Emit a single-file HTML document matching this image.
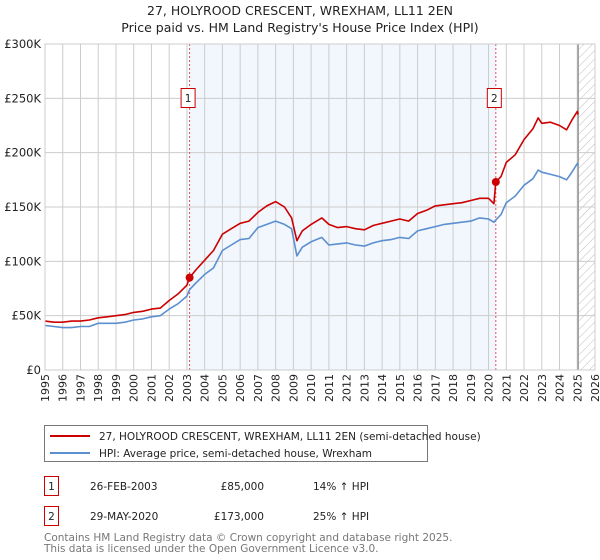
<!DOCTYPE html>
<html><head><meta charset="utf-8"><style>
body{margin:0;background:#fff;font-family:"DejaVu Sans","Liberation Sans",sans-serif;}
#wrap{position:relative;width:600px;height:560px;overflow:hidden}
svg text{font-family:"DejaVu Sans","Liberation Sans",sans-serif}
</style></head><body><div id="wrap">
<svg id="chart" width="600" height="560">
<text x="300" y="15" text-anchor="middle" font-size="12.5" fill="#222">27, HOLYROOD CRESCENT, WREXHAM, LL11 2EN</text>
<text x="300" y="32" text-anchor="middle" font-size="12.5" fill="#222">Price paid vs. HM Land Registry's House Price Index (HPI)</text>
<defs><pattern id="hatch" width="6" height="6" patternUnits="userSpaceOnUse" patternTransform="rotate(45)"><line x1="0" y1="0" x2="0" y2="6" stroke="#bbb" stroke-width="1"/></pattern></defs>
<g id="plot"></g>
<g>
<rect x="44.5" y="425.5" width="383" height="36" fill="#fff" stroke="#777"/>
<line x1="50" y1="436" x2="90" y2="436" stroke="#cc0000" stroke-width="2"/>
<text x="99" y="440" font-size="10.5" fill="#222">27, HOLYROOD CRESCENT, WREXHAM, LL11 2EN (semi-detached house)</text>
<line x1="50" y1="453" x2="90" y2="453" stroke="#5b8fd0" stroke-width="2"/>
<text x="99" y="457" font-size="10.5" fill="#222">HPI: Average price, semi-detached house, Wrexham</text>
</g>
<g font-size="10.5" fill="#222">
<rect x="44.5" y="476.5" width="14" height="19" fill="#fff" stroke="#cc0000"/>
<text x="51.5" y="490" text-anchor="middle">1</text>
<text x="90" y="490">26-FEB-2003</text>
<text x="264" y="490" text-anchor="end">£85,000</text>
<text x="313" y="490">14% ↑ HPI</text>
<rect x="44.5" y="506.5" width="14" height="19" fill="#fff" stroke="#cc0000"/>
<text x="51.5" y="520" text-anchor="middle">2</text>
<text x="90" y="520">29-MAY-2020</text>
<text x="264" y="520" text-anchor="end">£173,000</text>
<text x="313" y="520">25% ↑ HPI</text>
</g>
<text x="44" y="541" font-size="10.5" fill="#777">Contains HM Land Registry data © Crown copyright and database right 2025.</text>
<text x="44" y="552" font-size="10.5" fill="#777">This data is licensed under the Open Government Licence v3.0.</text>
</svg></div>
<script>
const dates=[1995,1995.5,1996,1996.5,1997,1997.5,1998,1998.5,1999,1999.5,2000,2000.5,2001,2001.5,2002,2002.5,2003,2003.15,2003.5,2004,2004.5,2005,2005.5,2006,2006.5,2007,2007.5,2008,2008.5,2008.9,2009.2,2009.5,2010,2010.6,2011,2011.5,2012,2012.5,2013,2013.5,2014,2014.5,2015,2015.5,2016,2016.5,2017,2017.5,2018,2018.5,2019,2019.5,2020,2020.3,2020.41,2020.7,2021,2021.5,2022,2022.5,2022.8,2023,2023.5,2024,2024.4,2024.7,2025,2025.05];
const propertyValues=[45,44,44,45,45,46,48,49,50,51,53,54,56,57,64,70,78,85,92,101,110,125,130,135,137,145,151,155,150,140,119,128,134,140,134,131,132,130,129,133,135,137,139,137,144,147,151,152,153,154,156,158,158,153,173,178,191,198,212,222,232,227,228,225,221,230,238,235];
const hpiValues=[41,40,39,39,40,40,43,43,43,44,46,47,49,50,56,61,68,74,80,88,94,110,115,120,121,131,134,137,134,130,105,113,118,122,115,116,117,115,114,117,119,120,122,121,128,130,132,134,135,136,137,140,139,136,138,143,154,160,170,176,184,182,180,178,175,182,190,188];
const sales=[{t:2003.15,v:85,label:"1"},{t:2020.41,v:173,label:"2"}];
const yTicks=[0,50,100,150,200,250,300];
const xTicks=[];for(let y=1995;y<=2026;y++)xTicks.push(y);
const X0=45,X1=595,Y0=370,Y1=44,END=2025.05;
const xs=t=>X0+(t-1995)/(2026-1995)*(X1-X0);
const ys=v=>Y0-v/300*(Y0-Y1);
const NS="http://www.w3.org/2000/svg",g=document.getElementById('plot');
function mk(tag,at,par){const e=document.createElementNS(NS,tag);for(const k in at)e.setAttribute(k,at[k]);(par||g).appendChild(e);return e;}
let r=mk('rect',{x:xs(2003.15),y:Y1,width:xs(2020.41)-xs(2003.15),height:Y0-Y1,fill:'#eef3fc',opacity:0.75});


r=mk('rect',{x:xs(END),y:Y1,width:X1-xs(END),height:Y0-Y1,fill:'url(#hatch)'});


xTicks.forEach(y=>{const l=mk('line',{x1:xs(y),x2:xs(y),y1:Y1,y2:Y0,stroke:'#ccc','stroke-width':1});


const t=mk('text',{x:0,y:0,'font-size':11,fill:'#222',transform:`translate(${xs(y)+4},${Y0+4}) rotate(-90)`,'text-anchor':'end'});


t.textContent=y;});
yTicks.forEach(v=>{const l=mk('line',{x1:X0,x2:X1,y1:ys(v),y2:ys(v),stroke:'#ccc','stroke-width':1});


const t=mk('text',{x:X0-4,y:ys(v)+4,'font-size':11.5,fill:'#222','text-anchor':'end'});


t.textContent=v===0?'£0':'£'+v+'K';});
let vl=mk('line',{x1:xs(END),x2:xs(END),y1:Y1,y2:Y0,stroke:'#999','stroke-width':1.5});


sales.forEach(s=>{const l=mk('line',{x1:xs(s.t),x2:xs(s.t),y1:Y1,y2:Y0,stroke:'#e05050','stroke-width':1,'stroke-dasharray':'2,2'});

});
function line(vals,color,name){const d=vals.map((v,i)=>(i?'L':'M')+xs(dates[i]).toFixed(1)+','+ys(v).toFixed(1)).join('');
const p=mk('path',{d:d,fill:'none',stroke:color,'stroke-width':1.6,'stroke-linejoin':'round'});

}
line(hpiValues,'#5b8fd0','hpi-line');
line(propertyValues,'#cc0000','property-price-line');
sales.forEach(s=>{const c=mk('circle',{cx:xs(s.t),cy:ys(s.v),r:4,fill:'#cc0000'});


const b=mk('rect',{x:xs(s.t)-8.5,y:88.5,width:14,height:19,fill:'#fff',stroke:'#cc0000'});


const t=mk('text',{x:xs(s.t)-1.5,y:102,'font-size':10.5,fill:'#222','text-anchor':'middle'});


t.textContent=s.label;});
const ax=mk('rect',{x:X0,y:Y1,width:X1-X0,height:Y0-Y1,fill:'none',stroke:'#ccc'});


</script></body></html>
